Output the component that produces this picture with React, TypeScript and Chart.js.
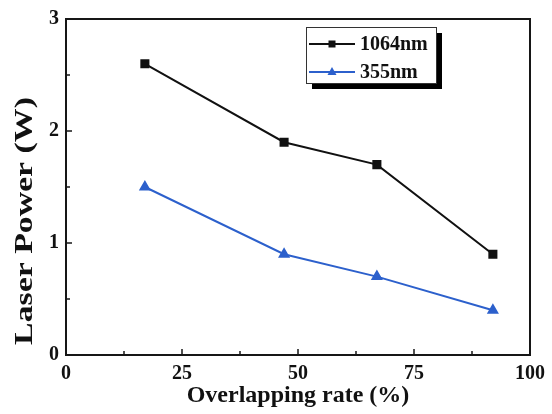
import React, { useEffect, useRef } from 'react';
import { Chart, registerables } from 'chart.js';

Chart.register(...registerables);

// ---- data ----
const overlapRates = [17, 47, 67, 92];
const power1064 = [2.6, 1.9, 1.7, 0.9];
const power355 = [1.5, 0.9, 0.7, 0.4];
const seriesLabels = ['1064nm', '355nm'];
const xTickValues = [0, 25, 50, 75, 100];
const yTickValues = [0, 1, 2, 3];
const xMinorTickValues = [12.5, 37.5, 62.5, 87.5];
const yMinorTickValues = [0.5, 1.5, 2.5];
const xTitle = 'Overlapping rate (%)';
const yTitle = 'Laser Power (W)';

const FONT = '"Liberation Serif", "Times New Roman", serif';
const AXIS_COLOR = '#161616';
const BLUE = '#2c60cc';

const decorPlugin = {
  id: 'decor',
  afterDraw(chart: any) {
    const { ctx, chartArea, scales } = chart;
    const { left, right, top, bottom } = chartArea;
    ctx.save();
    // inward ticks on the bottom and left axes
    ctx.strokeStyle = AXIS_COLOR;
    ctx.lineWidth = 1.5;
    const xs = scales.x;
    const ys = scales.y;
    const drawX = (v: number, len: number) => {
      const px = xs.getPixelForValue(v);
      ctx.beginPath();
      ctx.moveTo(px, bottom);
      ctx.lineTo(px, bottom - len);
      ctx.stroke();
    };
    const drawY = (v: number, len: number) => {
      const py = ys.getPixelForValue(v);
      ctx.beginPath();
      ctx.moveTo(left, py);
      ctx.lineTo(left + len, py);
      ctx.stroke();
    };
    xTickValues.forEach((v) => drawX(v, 6));
    xMinorTickValues.forEach((v) => drawX(v, 4));
    yTickValues.forEach((v) => drawY(v, 6));
    yMinorTickValues.forEach((v) => drawY(v, 4));
    // frame
    ctx.lineWidth = 2;
    ctx.strokeRect(left, top, right - left, bottom - top);

    // y axis title (stretched along its length, as in the reference)
    ctx.save();
    ctx.translate(25, 221);
    ctx.rotate(-Math.PI / 2);
    ctx.scale(1.3, 1);
    ctx.fillStyle = '#111';
    ctx.font = `bold 26px ${FONT}`;
    ctx.textAlign = 'center';
    ctx.textBaseline = 'middle';
    ctx.fillText(yTitle, 0, 0);
    ctx.restore();

    // legend box with drop shadow
    const bx = 306, by = 27, bw = 130, bh = 56;
    ctx.fillStyle = '#000';
    ctx.fillRect(bx + 6, by + 6, bw, bh);
    ctx.fillStyle = '#fff';
    ctx.fillRect(bx, by, bw, bh);
    ctx.lineWidth = 1;
    ctx.strokeStyle = '#333';
    ctx.strokeRect(bx + 0.5, by + 0.5, bw, bh);

    chart.data.datasets.forEach((ds: any, i: number) => {
      const cy = by + 17 + i * 28;
      const x0 = bx + 3, x1 = bx + 49, mx = (x0 + x1) / 2;
      ctx.strokeStyle = ds.borderColor;
      ctx.lineWidth = 2;
      ctx.beginPath();
      ctx.moveTo(x0, cy);
      ctx.lineTo(x1, cy);
      ctx.stroke();
      ctx.fillStyle = ds.pointBackgroundColor;
      if (ds.pointStyle === 'rect') {
        ctx.fillRect(mx - 3.5, cy - 3.5, 7, 7);
      } else {
        ctx.beginPath();
        ctx.moveTo(mx, cy - 5);
        ctx.lineTo(mx + 4.5, cy + 3);
        ctx.lineTo(mx - 4.5, cy + 3);
        ctx.closePath();
        ctx.fill();
      }
      ctx.fillStyle = '#111';
      ctx.font = `bold 20px ${FONT}`;
      ctx.textBaseline = 'middle';
      ctx.textAlign = 'left';
      ctx.fillText(ds.label, bx + 54, cy + 1);
    });
    ctx.restore();
  },
};

export default function App() {
  const ref = useRef<HTMLCanvasElement | null>(null);
  useEffect(() => {
    document.body.style.margin = '0';
    const canvas = ref.current;
    if (!canvas) return;
    const chart = new Chart(canvas, {
      type: 'line',
      data: {
        datasets: [
          {
            label: seriesLabels[0],
            data: overlapRates.map((x, i) => ({ x, y: power1064[i] })),
            borderColor: '#111',
            backgroundColor: '#111',
            pointBackgroundColor: '#111',
            pointBorderColor: '#111',
            pointStyle: 'rect',
            pointRadius: 5,
            borderWidth: 2,
            tension: 0,
          },
          {
            label: seriesLabels[1],
            data: overlapRates.map((x, i) => ({ x, y: power355[i] })),
            borderColor: BLUE,
            backgroundColor: BLUE,
            pointBackgroundColor: BLUE,
            pointBorderColor: BLUE,
            pointStyle: 'triangle',
            pointRadius: 5,
            borderWidth: 2,
            tension: 0,
          },
        ],
      },
      options: {
        responsive: false,
        animation: false,
        devicePixelRatio: 1,
        layout: { padding: { left: 0, top: 15, right: 21, bottom: 0 } },
        plugins: {
          legend: { display: false },
          tooltip: { enabled: false },
        },
        scales: {
          x: {
            type: 'linear',
            min: 0,
            max: 100,
            afterBuildTicks: (s: any) => {
              s.ticks = xTickValues.map((v) => ({ value: v }));
            },
            afterFit: (s: any) => {
              s.height = 59;
            },
            grid: { display: false, drawTicks: false },
            border: { display: false },
            ticks: {
              padding: 7,
              color: '#111',
              font: { family: FONT, size: 20, weight: 'bold' },
              maxRotation: 0,
            },
            title: {
              display: true,
              text: xTitle,
              color: '#111',
              font: { family: FONT, size: 24, weight: 'bold', lineHeight: 1 },
              padding: { top: 0, bottom: 6 },
            },
          },
          y: {
            type: 'linear',
            min: 0,
            max: 3,
            afterBuildTicks: (s: any) => {
              s.ticks = yTickValues.map((v) => ({ value: v }));
            },
            afterFit: (s: any) => {
              s.width = 66;
            },
            grid: { display: false, drawTicks: false },
            border: { display: false },
            ticks: {
              padding: 7,
              color: '#111',
              font: { family: FONT, size: 20, weight: 'bold' },
            },
          },
        },
      } as any,
      plugins: [decorPlugin],
    });
    return () => chart.destroy();
  }, []);
  return (
    <div style={{ position: 'absolute', left: 0, top: 0, width: 552, height: 414, background: '#fff' }}>
      <canvas ref={ref} width={552} height={414} style={{ width: 552, height: 414, display: 'block' }} />
    </div>
  );
}
